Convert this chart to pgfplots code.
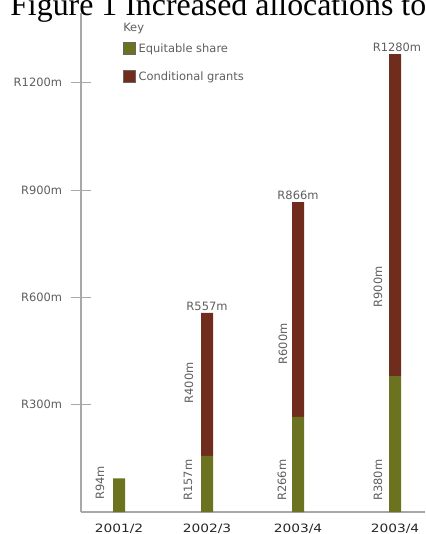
\documentclass[border=0pt]{standalone}
\usepackage{fontspec}
\setmainfont{DejaVu Sans}
\newfontfamily\titlefont{Liberation Serif}
\usepackage{pgfplots}
\pgfplotsset{compat=1.18}
\definecolor{eqgreen}{HTML}{6B7220}
\definecolor{condred}{HTML}{702C1C}
\definecolor{axisgray}{HTML}{A8A8A8}
\definecolor{labgray}{HTML}{5E5E5E}
\newcommand{\smallf}{\fontsize{8.6}{10}\selectfont}
\tikzset{vlab/.style={inner sep=0pt, font=\smallf, text=labgray}}
\begin{document}
\begin{tikzpicture}[x=1pt,y=1pt]
\useasboundingbox (0,0) rectangle (318.75,400.5);
\node[anchor=base west, inner sep=0pt, font=\titlefont\fontsize{23.9}{28}\selectfont] at (7.5,388.5) {Figure 1 Increased allocations to};
\begin{axis}[
  at={(60.75pt,16.5pt)}, anchor=south west,
  scale only axis, width=258pt, height=374.25pt,
  xmin=0, xmax=344, ymin=0, ymax=1395,
  enlargelimits=false,
  axis x line=bottom, axis y line=left,
  axis line style={-, draw=axisgray, line width=1.5pt},
  ybar stacked, bar width=9pt,
  xtick={38,126,217,314},
  xticklabels={2001/2,2002/3,2003/4,2003/4},
  x tick style={draw=none},
  xticklabel style={anchor=north, inner sep=0pt, yshift=-1pt, font=\smallf, text=black!85, xscale=1.2},
  ytick={300,600,900,1200},
  yticklabels={R300m,R600m,R900m,R1200m},
  y tick style={draw=axisgray, line width=0.6pt},
  tick align=center, major tick length=15pt,
  yticklabel style={anchor=east, inner sep=0pt, xshift=-6.5pt, font=\smallf, text=labgray},
  clip=false,
  legend style={at={(axis description cs:0.122,0.945)}, anchor=north west, draw=none, fill=none, font=\smallf, text=labgray, row sep=9pt, inner sep=0pt},
  legend cell align=left,
]
\addplot[fill=eqgreen, draw=none, legend image code/.code={\fill[fill=eqgreen] (0pt,-4.5pt) rectangle (9pt,4.5pt); \draw[draw=gray!80!black, fill=none, line width=0.5pt] (0pt,-4.5pt) rectangle (9pt,4.5pt);}] coordinates {(38,94) (126,157) (217,266) (314,380)};
\addlegendentry{Equitable share}
\addplot[fill=condred, draw=none, legend image code/.code={\fill[fill=condred] (0pt,-4.5pt) rectangle (9pt,4.5pt); \draw[draw=gray!80!black, fill=none, line width=0.5pt] (0pt,-4.5pt) rectangle (9pt,4.5pt);}] coordinates {(38,0) (126,400) (217,600) (314,900)};
\addlegendentry{Conditional grants}
\node[vlab, anchor=west] at (axis cs:42,1353) {Key};
\node[vlab, rotate=90] at (axis cs:19,81) {R94m};
\node[vlab, rotate=90] at (axis cs:107,89) {R157m};
\node[vlab, rotate=90] at (axis cs:201,89) {R266m};
\node[vlab, rotate=90] at (axis cs:297,89) {R380m};
\node[vlab, rotate=90] at (axis cs:108,361) {R400m};
\node[vlab, rotate=90] at (axis cs:202,470) {R600m};
\node[vlab, rotate=90] at (axis cs:297,629) {R900m};
\node[vlab] at (axis cs:126,576) {R557m};
\node[vlab] at (axis cs:217,886) {R866m};
\node[vlab] at (axis cs:316,1300) {R1280m};
\end{axis}
\end{tikzpicture}
\end{document}
